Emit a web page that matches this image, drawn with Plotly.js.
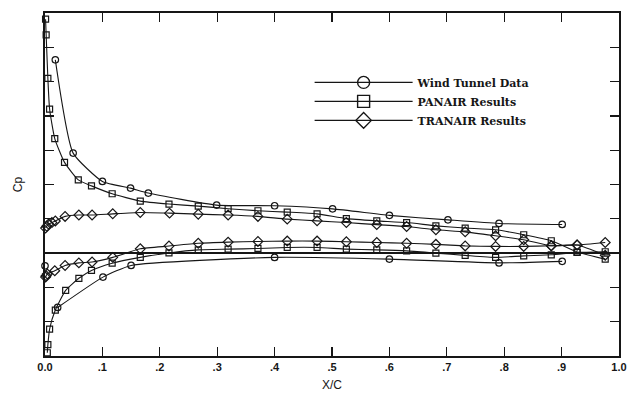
<!DOCTYPE html>
<html>
<head>
<meta charset="utf-8">
<script src="https://cdn.plot.ly/plotly-3.0.1.min.js"></script>
<style>
  html, body { margin: 0; padding: 0; background: #fff; }
  #chart { width: 629px; height: 394px; }
</style>
</head>
<body>
<div id="chart"></div>
<script>
// ---- Data (Cp vs X/C) ----
const seriesNames = ["Wind Tunnel Data", "PANAIR Results", "TRANAIR Results"];

const wtUpperX = [0.018, 0.049, 0.100, 0.149, 0.180, 0.299, 0.400, 0.501, 0.600, 0.702, 0.791, 0.901];
const wtUpperCp = [-1.127, -0.583, -0.418, -0.379, -0.350, -0.280, -0.276, -0.258, -0.220, -0.194, -0.173, -0.167];

const wtLowerX = [0.022, 0.101, 0.150, 0.400, 0.600, 0.791, 0.901];
const wtLowerCp = [0.317, 0.140, 0.072, 0.025, 0.035, 0.057, 0.048];

const wtLeX = [0.000];
const wtLeCp = [0.074];

const panUpperX = [0.001, 0.002, 0.005, 0.008, 0.017, 0.034, 0.058, 0.081, 0.117, 0.166, 0.216, 0.267, 0.319, 0.371, 0.422, 0.474, 0.525, 0.578, 0.630, 0.681, 0.732, 0.785, 0.834, 0.882, 0.927, 0.976];
const panUpperCp = [-1.364, -1.273, -1.019, -0.840, -0.668, -0.529, -0.427, -0.392, -0.346, -0.303, -0.286, -0.274, -0.259, -0.247, -0.239, -0.229, -0.201, -0.188, -0.178, -0.159, -0.146, -0.136, -0.107, -0.072, -0.006, 0.035];

const panLowerX = [0.004, 0.005, 0.008, 0.018, 0.036, 0.059, 0.081, 0.117, 0.166, 0.216, 0.267, 0.319, 0.371, 0.422, 0.474, 0.525, 0.578, 0.630, 0.681, 0.732, 0.785, 0.834, 0.882, 0.927, 0.976];
const panLowerCp = [0.581, 0.534, 0.443, 0.332, 0.217, 0.147, 0.101, 0.059, 0.025, -0.001, -0.019, -0.023, -0.027, -0.033, -0.033, -0.023, -0.019, -0.013, 0.000, 0.013, 0.025, 0.016, 0.010, -0.004, -0.008];

const traUpperX = [0.001, 0.003, 0.006, 0.012, 0.018, 0.035, 0.059, 0.082, 0.118, 0.166, 0.217, 0.267, 0.319, 0.371, 0.422, 0.474, 0.525, 0.578, 0.630, 0.681, 0.732, 0.785, 0.834, 0.882, 0.927, 0.976];
const traUpperCp = [-0.146, -0.157, -0.169, -0.178, -0.187, -0.214, -0.222, -0.222, -0.229, -0.237, -0.233, -0.227, -0.222, -0.214, -0.198, -0.188, -0.178, -0.166, -0.155, -0.136, -0.124, -0.101, -0.078, -0.043, -0.047, 0.012];

const traLowerX = [0.001, 0.002, 0.004, 0.017, 0.035, 0.059, 0.082, 0.118, 0.166, 0.216, 0.267, 0.319, 0.371, 0.422, 0.474, 0.525, 0.578, 0.630, 0.681, 0.732, 0.785, 0.834, 0.882, 0.927, 0.976];
const traLowerCp = [0.140, 0.132, 0.122, 0.103, 0.072, 0.057, 0.052, 0.025, -0.025, -0.041, -0.057, -0.064, -0.068, -0.070, -0.070, -0.066, -0.062, -0.057, -0.051, -0.042, -0.039, -0.039, -0.043, -0.047, -0.062];

const xTickVals = [0, 0.1, 0.2, 0.3, 0.4, 0.5, 0.6, 0.7, 0.8, 0.9, 1.0];
const xTickText = ["0.0", ".1", ".2", ".3", ".4", ".5", ".6", ".7", ".8", ".9", "1.0"];

// ---- Styles ----
const ink = "#161616";
const symbols = ["circle-open", "square-open", "diamond-open"];
const mSize = [6.5, 6, 7.5];

function curve(x, y, k, dash) {
  return {
    x: x, y: y, type: "scatter", mode: "lines+markers",
    line: { color: ink, width: 1.1, shape: "spline", smoothing: 0.5, dash: dash || "solid" },
    marker: { symbol: symbols[k], size: mSize[k], color: ink, line: { color: ink, width: 1.2 } },
    showlegend: false, hoverinfo: "skip", cliponaxis: false
  };
}
function legendItem(k) {
  return {
    x: [null], y: [null], type: "scatter", mode: "lines+markers", name: seriesNames[k],
    line: { color: ink, width: 1.2 },
    marker: { symbol: symbols[k], size: 12, color: ink, line: { color: ink, width: 1.4 } },
    showlegend: true
  };
}

const data = [
  curve(wtUpperX, wtUpperCp, 0),
  curve(wtLowerX, wtLowerCp, 0),
  { x: wtLeX, y: wtLeCp, type: "scatter", mode: "markers", showlegend: false, cliponaxis: false,
    marker: { symbol: symbols[0], size: 6.5, color: ink, line: { color: ink, width: 1.2 } } },
  curve(panUpperX, panUpperCp, 1),
  curve(panLowerX, panLowerCp, 1),
  curve(traUpperX, traUpperCp, 2),
  curve(traLowerX, traLowerCp, 2),
  legendItem(0), legendItem(1), legendItem(2)
];

const layout = {
  width: 629, height: 394,
  margin: { l: 45, r: 10, t: 13, b: 38 },
  paper_bgcolor: "#ffffff", plot_bgcolor: "#ffffff",
  showlegend: true,
  legend: {
    x: 0.461, y: 0.84, xanchor: "left", yanchor: "top",
    bgcolor: "rgba(0,0,0,0)", borderwidth: 0,
    itemwidth: 98, tracegroupgap: 0,
    font: { family: "DejaVu Serif, serif", size: 11, color: ink, weight: "bold" }
  },
  xaxis: {
    range: [0, 1.0],
    tickvals: xTickVals, ticktext: xTickText,
    ticks: "inside", ticklen: 9, tickwidth: 1.3, tickcolor: ink,
    mirror: "ticks", showline: true, linecolor: ink, linewidth: 2,
    showgrid: false, zeroline: false,
    tickfont: { family: "Liberation Sans, Arial, sans-serif", size: 11, color: ink, weight: "bold" },
    title: { text: "X/C", font: { family: "Liberation Sans, Arial, sans-serif", size: 12, color: ink }, standoff: 8 }
  },
  yaxis: {
    range: [0.6, -1.4],
    dtick: 0.2, tick0: 0,
    ticks: "inside", ticklen: 9, tickwidth: 1.3, tickcolor: ink,
    showticklabels: false,
    mirror: "ticks", showline: true, linecolor: ink, linewidth: 2,
    showgrid: false,
    zeroline: true, zerolinecolor: ink, zerolinewidth: 1.6,
    title: { text: "Cp", font: { family: "Liberation Sans, Arial, sans-serif", size: 12, color: ink }, standoff: 18 }
  }
};

Plotly.newPlot("chart", data, layout, { staticPlot: true, displayModeBar: false });
</script>
</body>
</html>
